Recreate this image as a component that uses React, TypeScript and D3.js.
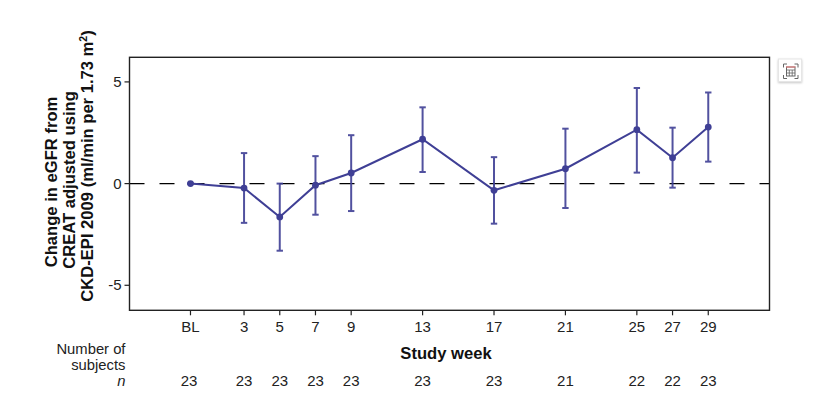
import React from "react";
import * as d3 from "d3";

const weeks = [0, 3, 5, 7, 9, 13, 17, 21, 25, 27, 29];
const weekLabels = ["BL", "3", "5", "7", "9", "13", "17", "21", "25", "27", "29"];
const means = [0, -0.22, -1.64, -0.08, 0.52, 2.18, -0.33, 0.73, 2.65, 1.27, 2.78];
const uppers = [0, 1.5, 0, 1.35, 2.38, 3.75, 1.3, 2.7, 4.7, 2.75, 4.48];
const lowers = [0, -1.93, -3.3, -1.53, -1.35, 0.57, -1.97, -1.2, 0.54, -0.2, 1.08];
const counts = [23, 23, 23, 23, 23, 23, 23, 21, 22, 22, 23];
const yTicks = [-5, 0, 5];

const L = 129.5, R = 769.5, T = 57.3, B = 310.3;
const COLOR = "#3f3f95";
const FONT = "'Liberation Sans', Arial, sans-serif";

export default function App() {
  const x = d3.scaleLinear().domain([-3.416, 32.43]).range([L, R]);
  const y = d3.scaleLinear().domain([-6.23, 6.21]).range([B, T]);
  const line = d3.line<number>().x((_, i) => x(weeks[i])).y((d) => y(d));
  return (
    <svg width={833} height={395} style={{ position: "absolute", left: 0, top: 0, fontFamily: FONT }}>
      <defs>
        <filter id="iconShadow" x="-30%" y="-30%" width="160%" height="160%">
          <feDropShadow dx={0} dy={1} stdDeviation={1} floodColor="#000" floodOpacity={0.22} />
        </filter>
      </defs>
      <rect width={833} height={395} fill="#fff" />
      <line x1={L} x2={R} y1={y(0)} y2={y(0)} stroke="#000" strokeWidth={1.3} strokeDasharray="15 15" />
      {weeks.map((w, i) => (
        <g key={w} stroke={COLOR} strokeWidth={2} opacity={0.9}>
          <line x1={x(w)} x2={x(w)} y1={y(uppers[i])} y2={y(lowers[i])} />
          <line x1={x(w) - 3.2} x2={x(w) + 3.2} y1={y(uppers[i])} y2={y(uppers[i])} />
          <line x1={x(w) - 3.2} x2={x(w) + 3.2} y1={y(lowers[i])} y2={y(lowers[i])} />
        </g>
      ))}
      <path d={line(means) ?? ""} fill="none" stroke={COLOR} strokeWidth={2} />
      {weeks.map((w, i) => (
        <circle key={w} cx={x(w)} cy={y(means[i])} r={3.4} fill={COLOR} />
      ))}
      <rect x={L} y={T} width={R - L} height={B - T} fill="none" stroke="#222" strokeWidth={1.4} />
      {yTicks.map((t) => (
        <g key={t}>
          <line x1={L - 5} x2={L} y1={y(t)} y2={y(t)} stroke="#222" strokeWidth={1.2} />
          <text x={L - 8} y={y(t) + 5.2} textAnchor="end" fontSize={15} fill="#222">{t}</text>
        </g>
      ))}
      {weeks.map((w, i) => (
        <g key={w} fill="#222" fontSize={15} textAnchor="middle">
          <line x1={x(w)} x2={x(w)} y1={B} y2={B + 5} stroke="#222" strokeWidth={1.2} />
          <text x={x(w)} y={332}>{weekLabels[i]}</text>
          <text x={x(w) - (i === 0 ? 1.5 : 0)} y={386}>{counts[i]}</text>
        </g>
      ))}
      <text x={446} y={359} textAnchor="middle" fontSize={16.6} fontWeight="bold" fill="#111">Study week</text>
      <g fontSize={14.8} fill="#222" textAnchor="end">
        <text x={125.5} y={353.5}>Number of</text>
        <text x={125.5} y={370}>subjects</text>
        <text x={125.5} y={386} fontStyle="italic">n</text>
      </g>
      <g fontSize={16.6} fontWeight="bold" fill="#111" textAnchor="middle">
        <text transform="translate(56.5,182) rotate(-90)">Change in eGFR from</text>
        <text transform="translate(75,180) rotate(-90)">CREAT adjusted using</text>
        <text transform="translate(93,166) rotate(-90)">CKD-EPI 2009 (ml/min per 1.73 m<tspan dy={-6} fontSize={10.5}>2</tspan><tspan dy={6}>)</tspan></text>
      </g>
      <g>
        <rect x={778.5} y={59} width={23} height={22.500} fill="#fff" stroke="#e6e6e6" strokeWidth={1} filter="url(#iconShadow)" />
        <path d="M783.500 67.500v-3.500h3.500M794.500 64h3.500v3.500M783.500 75v3.500h3.500M794.500 78.500h3.500v-3.500" fill="none" stroke="#666" strokeWidth={1} />
        <rect x={786.500} y={67} width={8.500} height={9} fill="none" stroke="#666" strokeWidth={1} />
        <path d="M786.500 70h8.500M786.500 73h8.500M789.300 70v6M792.200 70v6" stroke="#666" strokeWidth={0.8} fill="none" />
        <line x1={786} x2={795.500} y1={67} y2={67} stroke="#e77" strokeWidth={1} />
      </g>
    </svg>
  );
}
